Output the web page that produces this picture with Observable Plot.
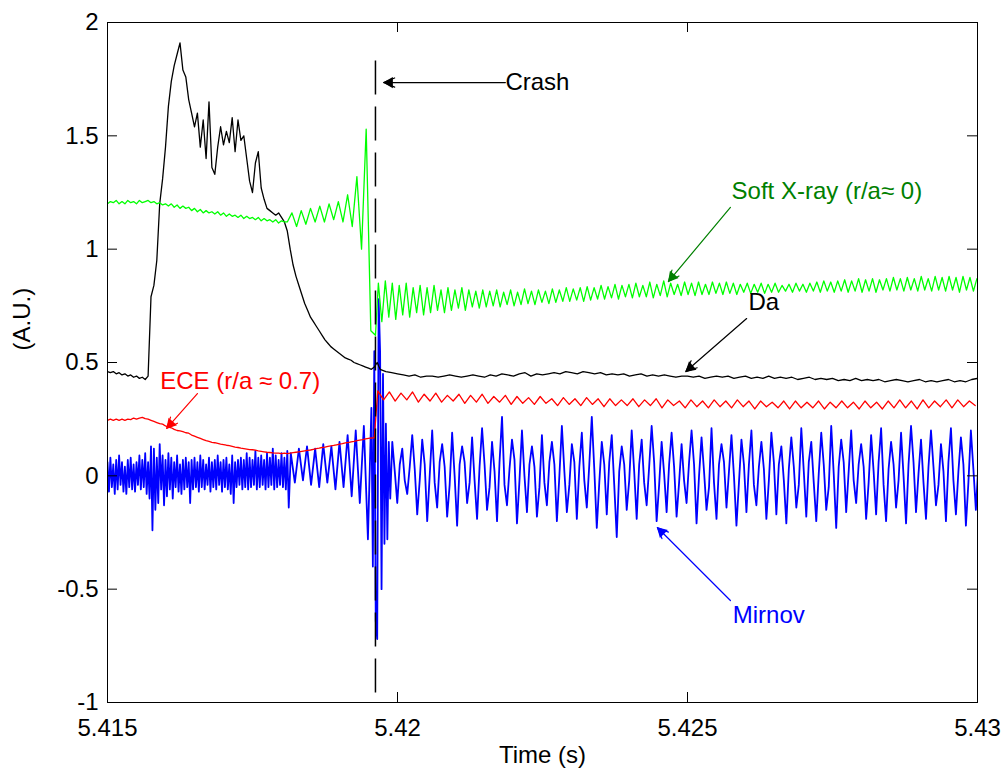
<!DOCTYPE html>
<html>
<head>
<meta charset="utf-8">
<script src="https://cdn.jsdelivr.net/npm/d3@7"></script>
<script src="https://cdn.jsdelivr.net/npm/@observablehq/plot@0.6"></script>
<style>
  html, body { margin: 0; padding: 0; background: #fff; }
  #chart { width: 1008px; height: 782px; }
</style>
</head>
<body>
<div id="chart"></div>
<script>
// ---------- axis ticks ----------
const xTicks = [5.415, 5.42, 5.425, 5.43];
const xTickLabels = ["5.415", "5.42", "5.425", "5.43"];
const yTicks = [-1, -0.5, 0, 0.5, 1, 1.5, 2];
const yTickLabels = ["-1", "-0.5", "0", "0.5", "1", "1.5", "2"];

// ---------- Da (black) ----------
const daA_t0 = 5.415, daA_dt = 0.00005;
const daA = [0.46,0.455,0.46,0.45,0.455,0.445,0.45,0.44,0.445,0.435,
  0.44,0.43,0.435,0.425,0.44,0.79,0.84,0.95,1.20,1.31,
  1.45,1.63,1.74,1.81,1.86,1.91,1.79,1.76,1.66,1.60,
  1.54,1.60,1.45,1.57,1.40,1.65,1.36,1.33,1.45,1.54,
  1.46,1.52,1.47,1.58,1.43,1.57,1.48,1.50,1.40,1.30,
  1.25,1.38,1.43,1.27,1.22,1.18,1.17,1.16,1.15,1.16,
  1.14,1.12,1.08,1.00,0.93,0.88,0.84,0.80,0.76,0.73,
  0.70,0.68,0.66,0.64,0.62,0.60,0.585,0.57,0.56,0.55,
  0.54,0.53,0.52,0.515,0.51,0.50,0.495,0.49,0.485,0.48,
  0.475,0.47,0.48,0.50];
const daB_t0 = 5.4197, daB_dt = 0.0001;
const daB = [0.47,0.46,0.455,0.45,0.445,0.44,0.445,0.435,0.44,0.44,
  0.435,0.44,0.445,0.44,0.435,0.44,0.445,0.44,0.435,0.445,
  0.44,0.45,0.445,0.44,0.45,0.455,0.44,0.45,0.445,0.45,
  0.455,0.45,0.46,0.455,0.45,0.46,0.455,0.45,0.455,0.445,
  0.45,0.445,0.45,0.44,0.445,0.45,0.44,0.445,0.44,0.445,
  0.44,0.435,0.44,0.44,0.435,0.44,0.43,0.435,0.44,0.435,
  0.44,0.43,0.435,0.44,0.43,0.435,0.43,0.44,0.43,0.435,
  0.43,0.435,0.425,0.43,0.435,0.425,0.43,0.425,0.43,0.42,
  0.425,0.42,0.43,0.42,0.425,0.42,0.425,0.415,0.42,0.425,
  0.42,0.415,0.42,0.425,0.415,0.42,0.415,0.42,0.425,0.415,
  0.42,0.415,0.425,0.43];

// ---------- ECE (red) ----------
const eceA_t0 = 5.415, eceA_dt = 0.00005;
const eceA = [0.245,0.25,0.245,0.25,0.245,0.25,0.245,0.25,0.248,0.255,
  0.25,0.255,0.258,0.252,0.25,0.245,0.24,0.235,0.23,0.228,
  0.22,0.215,0.212,0.205,0.2,0.198,0.195,0.19,0.188,0.18,
  0.175,0.17,0.165,0.16,0.155,0.152,0.148,0.146,0.143,0.14,
  0.138,0.135,0.133,0.13,0.127,0.125,0.122,0.12,0.118,0.116,
  0.115,0.113,0.11,0.108,0.106,0.104,0.103,0.101,0.1,0.1,
  0.098,0.1,0.098,0.1,0.102,0.104,0.106,0.108,0.11,0.112,
  0.114,0.117,0.12,0.122,0.125,0.127,0.13,0.132,0.134,0.137,
  0.14,0.142,0.145,0.147,0.15,0.152,0.155,0.158,0.16,0.163,
  0.165,0.167,0.168];
const eceB_t0 = 5.41966, eceB_dt = 0.0001;
const eceB = [0.375,0.335,0.37,0.33,0.365,0.335,0.37,0.325,0.36,0.33,
  0.365,0.325,0.355,0.33,0.36,0.32,0.355,0.325,0.36,0.32,
  0.35,0.325,0.355,0.315,0.35,0.32,0.345,0.315,0.35,0.32,
  0.34,0.31,0.345,0.315,0.34,0.31,0.345,0.315,0.34,0.305,
  0.34,0.31,0.335,0.31,0.34,0.305,0.335,0.31,0.34,0.3,
  0.335,0.31,0.33,0.3,0.335,0.305,0.33,0.3,0.335,0.305,
  0.33,0.3,0.335,0.305,0.33,0.295,0.33,0.305,0.325,0.3,
  0.33,0.295,0.33,0.3,0.325,0.3,0.33,0.295,0.325,0.3,
  0.33,0.3,0.325,0.295,0.33,0.3,0.325,0.295,0.33,0.3,
  0.335,0.3,0.33,0.295,0.335,0.3,0.33,0.305,0.335,0.3,
  0.335,0.305,0.33,0.31];

// ---------- Soft X-ray (green) ----------
const sxrA_t0 = 5.415, sxrA_dt = 0.00005;
const sxrA = [1.20,1.21,1.205,1.215,1.20,1.21,1.2,1.215,1.205,1.21,
  1.2,1.215,1.205,1.21,1.215,1.205,1.21,1.2,1.205,1.195,
  1.2,1.19,1.2,1.185,1.195,1.18,1.19,1.18,1.185,1.17,
  1.18,1.165,1.175,1.16,1.17,1.16,1.165,1.155,1.165,1.15,
  1.16,1.145,1.155,1.145,1.15,1.14,1.15,1.135,1.145,1.135,
  1.14,1.13,1.14,1.125,1.135,1.125,1.13,1.12,1.13,1.115,
  1.125,1.12];
const sxrB_t0 = 5.4181, sxrB_dt = 0.00008;
const sxrB = [1.12,1.16,1.10,1.17,1.11,1.18,1.12,1.19,1.12,1.20,
  1.13,1.21,1.12,1.24,1.10,1.32,1.00,1.53,0.64,0.62];
const sxrC_t0 = 5.41967, sxrC_dt = 0.00006;
const sxrC = [0.85,0.68,0.86,0.70,0.85,0.69,0.84,0.71,0.85,0.70,
  0.83,0.72,0.84,0.71,0.83,0.72,0.84,0.73,0.82,0.72,
  0.83,0.73,0.82,0.74,0.83,0.73,0.82,0.745,0.815,0.74,
  0.82,0.745,0.815,0.75,0.82,0.745,0.81,0.755,0.82,0.75,
  0.81,0.755,0.825,0.76,0.815,0.755,0.82,0.765,0.815,0.76,
  0.825,0.765,0.82,0.77,0.83,0.77,0.825,0.775,0.83,0.77,
  0.835,0.775,0.83,0.78,0.84,0.78,0.835,0.785,0.845,0.78,
  0.84,0.79,0.845,0.785,0.85,0.79,0.84,0.79,0.855,0.785,
  0.845,0.795,0.86,0.79,0.85,0.8,0.845,0.795,0.855,0.8,
  0.85,0.795,0.855,0.8,0.845,0.8,0.855,0.805,0.85,0.8,
  0.855,0.805,0.85,0.8,0.845,0.81,0.85,0.805,0.845,0.81,
  0.85,0.805,0.845,0.81,0.85,0.81,0.84,0.815,0.845,0.81,
  0.85,0.815,0.845,0.81,0.85,0.815,0.855,0.81,0.86,0.815,
  0.855,0.81,0.86,0.815,0.865,0.81,0.86,0.815,0.87,0.81,
  0.865,0.815,0.87,0.81,0.865,0.82,0.87,0.815,0.875,0.82,
  0.87,0.815,0.875,0.82,0.87,0.815,0.88,0.82,0.87,0.815,
  0.88,0.82,0.875,0.815,0.88,0.82,0.875,0.81,0.88,0.82,
  0.875,0.815,0.87];

// ---------- Mirnov (blue) ----------
const mirA_t0 = 5.415, mirA_dt = 0.000025;
const mirA = [0.06,-0.07,0.08,-0.05,0.05,-0.08,0.07,-0.06,0.09,-0.04,
  0.06,-0.07,0.04,-0.08,0.07,-0.05,0.08,-0.06,0.05,-0.07,
  0.06,-0.04,0.09,-0.06,0.07,-0.05,0.1,-0.08,0.06,-0.1,
  0.13,-0.24,0.12,-0.15,0.08,-0.12,0.14,-0.06,0.09,-0.13,
  0.07,-0.09,0.1,-0.06,0.08,-0.1,0.06,-0.05,0.09,-0.07,
  0.05,-0.08,0.07,-0.06,0.08,-0.05,0.06,-0.12,0.07,-0.06,
  0.08,-0.05,0.06,-0.07,0.09,-0.05,0.07,-0.06,0.05,-0.04,
  0.08,-0.07,0.06,-0.05,0.07,-0.06,0.09,-0.04,0.06,-0.07,
  0.07,-0.05,0.08,-0.06,0.05,-0.08,0.09,-0.12,0.06,-0.05,
  0.07,-0.04,0.08,-0.06,0.07,-0.05,0.1,-0.06,0.08,-0.05,
  0.07,-0.04,0.11,-0.06,0.08,-0.05,0.09,-0.04,0.07,-0.06,
  0.1,-0.05,0.08,-0.04,0.12,-0.06,0.09,-0.05,0.07,-0.04,
  0.1,-0.05,0.08,-0.06,0.11,-0.14];
const mirB_t0 = 5.41816, mirB_dt = 0.00007;
const mirB = [0.1,-0.03,0.12,-0.02,0.13,-0.04,0.12,-0.05,0.14,-0.03,
  0.13,-0.06,0.15,-0.05,0.18,-0.09,0.2,-0.12,0.22,-0.28];
const mirC_t0 = 5.41955, mirC_dt = 0.000025;
const mirC = [0.3,-0.4,0.55,-0.64,-0.72,0.78,0.55,-0.5,0.45,-0.3,
  0.23,-0.28,0.15,-0.1];
const mirD_t0 = 5.41991, mirD_dt = 0.000043;
const mirD = [
  0.15,0.02,-0.12,0.05, 0.12,-0.02,-0.08,0.04, 0.18,0.03,-0.17,-0.02, 0.16,0.05,-0.20,0.0,
  0.2,-0.03,-0.14,0.06, 0.14,0.04,-0.18,-0.04, 0.19,0.0,-0.22,0.05, 0.13,0.06,-0.12,-0.03,
  0.17,-0.02,-0.19,0.04, 0.21,0.05,-0.15,-0.05, 0.15,0.02,-0.2,0.06, 0.26,-0.04,-0.13,0.03,
  0.16,0.07,-0.21,-0.02, 0.2,0.0,-0.16,0.05, 0.13,0.04,-0.18,-0.05, 0.18,-0.03,-0.13,0.06,
  0.15,0.05,-0.2,0.0, 0.22,0.02,-0.16,-0.04, 0.14,0.06,-0.19,0.04, 0.19,-0.02,-0.14,0.05,
  0.26,0.03,-0.23,-0.03, 0.15,0.05,-0.17,0.06, 0.18,-0.04,-0.27,0.02, 0.13,0.05,-0.15,-0.02,
  0.2,0.02,-0.19,0.05, 0.16,-0.03,-0.13,0.04, 0.22,0.06,-0.2,-0.04, 0.15,0.01,-0.16,0.05,
  0.19,0.04,-0.18,-0.03, 0.14,-0.02,-0.12,0.06, 0.2,0.05,-0.21,0.0, 0.17,0.02,-0.15,-0.05,
  0.21,-0.03,-0.19,0.05, 0.14,0.06,-0.14,0.02, 0.18,0.0,-0.22,-0.03, 0.16,0.05,-0.16,0.05,
  0.2,-0.04,-0.13,0.04, 0.15,0.03,-0.19,-0.02, 0.19,0.06,-0.17,0.05, 0.13,-0.02,-0.21,0.03,
  0.17,0.04,-0.14,-0.04, 0.21,0.02,-0.18,0.06, 0.15,-0.03,-0.2,0.01, 0.19,0.05,-0.15,-0.05,
  0.22,0.01,-0.23,0.04, 0.16,0.06,-0.16,0.02, 0.2,-0.02,-0.12,0.05, 0.14,0.04,-0.19,-0.03,
  0.18,0.02,-0.17,0.06, 0.21,-0.04,-0.2,0.03, 0.15,0.05,-0.14,-0.02, 0.19,0.0,-0.21,0.05,
  0.22,0.06,-0.16,0.01, 0.16,-0.03,-0.19,0.04, 0.2,0.04,-0.13,-0.04, 0.14,0.02,-0.2,0.06,
  0.21,-0.02,-0.17,0.02, 0.17,0.05,-0.22,-0.03, 0.2,0.03,-0.15,0.05];

// ---------- crash marker ----------
const crashTime = 5.41962;
const crashSpan = [1.83, -0.96];

// ---------- annotations ----------
const labelText = ["Crash", "Soft X-ray (r/a\u2248 0)", "Da", "ECE (r/a \u2248 0.7)", "Mirnov"];
const labelTime = [5.42186, 5.42576, 5.42605, 5.41591, 5.42578];
const labelValue = [1.735, 1.254, 0.765, 0.416, -0.616];
const labelColor = ["#000000", "#008000", "#000000", "#ff0000", "#0000ff"];
const arrowFromT = [5.42186, 5.42574, 5.42602, 5.41655, 5.42574];
const arrowFromV = [1.735, 1.184, 0.694, 0.363, -0.550];
const arrowToT = [5.41976, 5.42467, 5.42497, 5.41602, 5.42448];
const arrowToV = [1.735, 0.857, 0.460, 0.209, -0.228];

// ---------- build tables ----------
function seg(t0, dt, vals) { return vals.map((v, i) => ({t: t0 + i * dt, v})); }
const daData = [...seg(daA_t0, daA_dt, daA), ...seg(daB_t0, daB_dt, daB)];
const eceData = [...seg(eceA_t0, eceA_dt, eceA), ...seg(eceB_t0, eceB_dt, eceB)];
const sxrData = [...seg(sxrA_t0, sxrA_dt, sxrA), ...seg(sxrB_t0, sxrB_dt, sxrB), ...seg(sxrC_t0, sxrC_dt, sxrC)];
const mirData = [...seg(mirA_t0, mirA_dt, mirA), ...seg(mirB_t0, mirB_dt, mirB), ...seg(mirC_t0, mirC_dt, mirC), ...seg(mirD_t0, mirD_dt, mirD)];
const labels = labelText.map((s, i) => ({s, t: labelTime[i], v: labelValue[i], c: labelColor[i]}));
const arrows = arrowFromT.map((t, i) => ({x1: t, y1: arrowFromV[i], x2: arrowToT[i], y2: arrowToV[i], c: labelColor[i]}));

const FONT = "'Liberation Sans', Arial, Helvetica, sans-serif";
const W = 1008, H = 782, ML = 107, MR = 31, MT = 22, MB = 80;
const innerW = W - ML - MR, innerH = H - MT - MB, TL = 10;
const xDomain = [5.415, 5.43], yDomain = [-1, 2];

// filled arrow heads: placed along each arrow's own direction (screen space)
const kx = innerW / (xDomain[1] - xDomain[0]), ky = innerH / (yDomain[1] - yDomain[0]);
const HEAD_BACK = 6;
const heads = arrows.map(a => {
  const dx = (a.x2 - a.x1) * kx, dy = -(a.y2 - a.y1) * ky;
  const L = Math.hypot(dx, dy), ux = dx / L, uy = dy / L;
  return {x: a.x2 - ux * HEAD_BACK / kx, y: a.y2 + uy * HEAD_BACK / ky,
          rot: Math.atan2(dx, -dy) * 180 / Math.PI, c: a.c};
});

const chart = Plot.plot({
  width: W, height: H,
  marginLeft: ML, marginRight: MR, marginTop: MT, marginBottom: MB,
  x: {domain: xDomain},
  y: {domain: yDomain},
  style: {fontFamily: FONT, fontSize: "24px", background: "#ffffff", color: "#000000"},
  marks: [
    Plot.line(mirData, {x: "t", y: "v", stroke: "#0000ff", strokeWidth: 1.8, clip: true}),
    Plot.line(eceData, {x: "t", y: "v", stroke: "#ff0000", strokeWidth: 1.3, clip: true}),
    Plot.line(daData, {x: "t", y: "v", stroke: "#000000", strokeWidth: 1.3, clip: true}),
    Plot.line(sxrData, {x: "t", y: "v", stroke: "#00ff00", strokeWidth: 1.3, clip: true}),
    Plot.ruleX([crashTime], {y1: crashSpan[0], y2: crashSpan[1], stroke: "#000000", strokeWidth: 1.5, strokeDasharray: "34,12"}),
    Plot.arrow(arrows, {x1: "x1", y1: "y1", x2: "x2", y2: "y2", stroke: "c", strokeWidth: 1.2, headLength: 15, headAngle: 45}),
    Plot.dot(heads, {x: "x", y: "y", symbol: "triangle", r: 4.2, fill: "c", stroke: "none", rotate: "rot"}),
    Plot.text(labels, {x: "t", y: "v", text: "s", fill: "c", textAnchor: "start", fontSize: 24}),
    Plot.frame({stroke: "#000000", strokeWidth: 1}),
    Plot.tickX(xTicks, {x: d => d, insetTop: innerH - TL, stroke: "#000000"}),
    Plot.tickX(xTicks, {x: d => d, insetBottom: innerH - TL, stroke: "#000000"}),
    Plot.tickY(yTicks, {y: d => d, insetRight: innerW - TL, stroke: "#000000"}),
    Plot.tickY(yTicks, {y: d => d, insetLeft: innerW - TL, stroke: "#000000"}),
    Plot.axisX(xTicks, {tickSize: 0, tickPadding: 16, tickFormat: d => xTickLabels[xTicks.indexOf(d)], label: null, fontSize: 24}),
    Plot.axisY(yTicks, {tickSize: 0, tickPadding: 9, tickFormat: d => yTickLabels[yTicks.indexOf(d)], label: null, fontSize: 24}),
    Plot.text(["Time (s)"], {frameAnchor: "bottom", dy: 60, fontSize: 24}),
    Plot.text(["(A.U.)"], {frameAnchor: "left", dx: -85, dy: -12, rotate: -90, fontSize: 24})
  ]
});
document.getElementById("chart").appendChild(chart);
</script>
</body>
</html>
